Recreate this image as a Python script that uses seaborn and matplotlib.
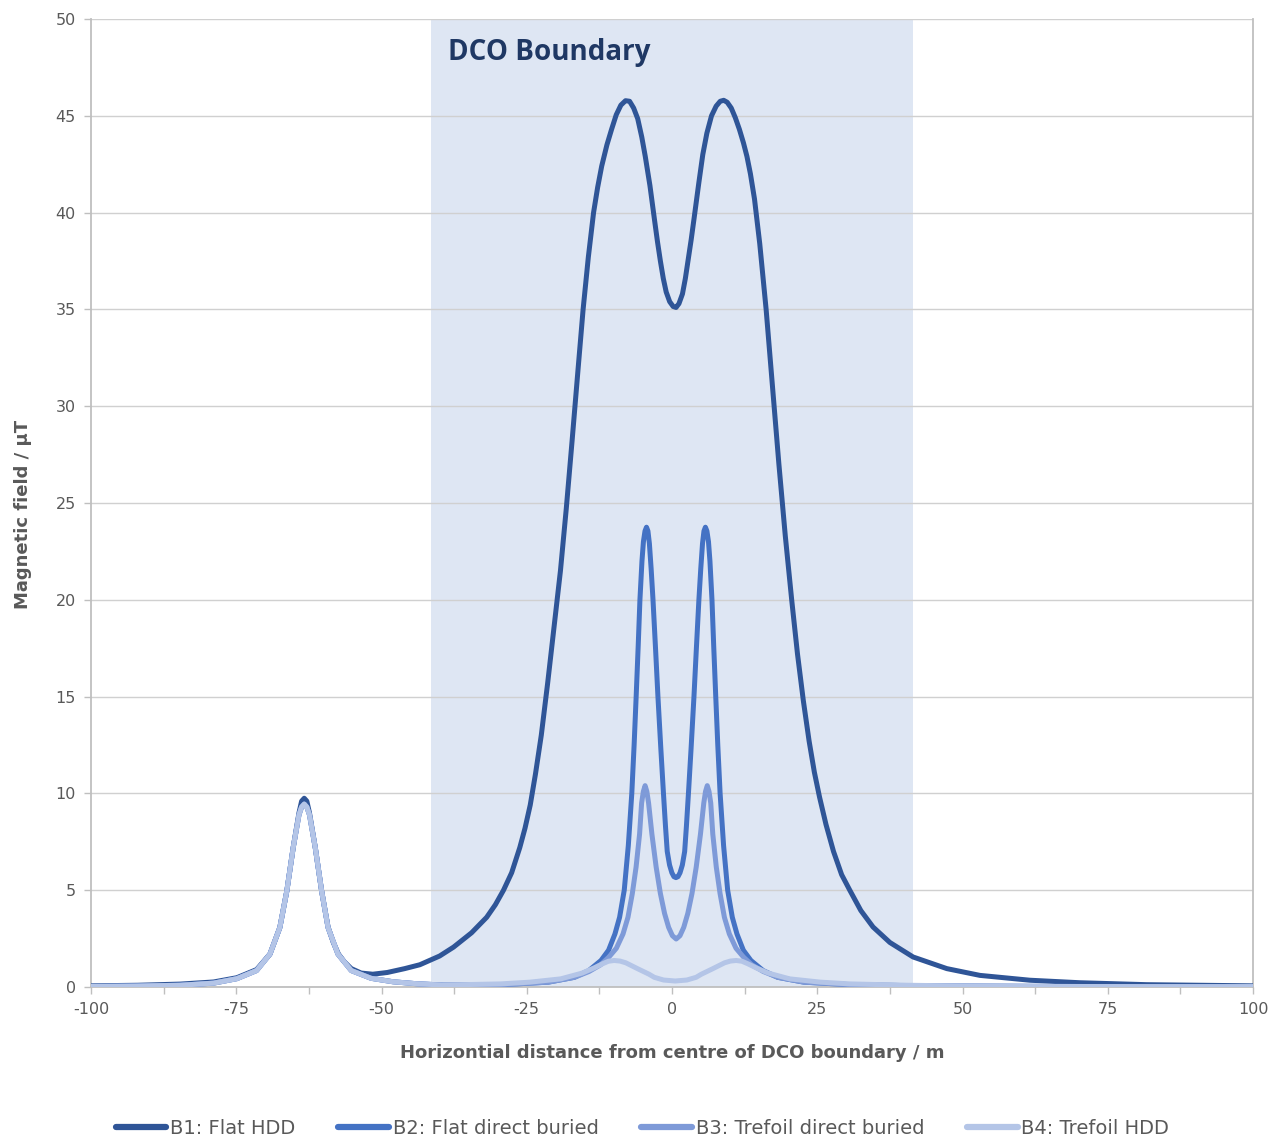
import numpy as np
import pandas as pd
import matplotlib
matplotlib.use("Agg")
import matplotlib.pyplot as plt
from matplotlib.lines import Line2D
import seaborn as sns

# ---- series data: horizontal distance (m) and magnetic field (uT) ----
b1_x = [-100, -92, -84.7, -78.9, -74.9, -71.5, -69.2, -67.5, -66.3, -65.2, -64.2, -63.75, -63.3,
        -62.85, -62.4, -61.4, -60.3, -59.2, -58.3, -57.4, -56.4, -55.2, -53.5, -51.5, -49, -46,
        -43.4, -40, -37.6, -34.5, -31.9, -30.4, -29.0, -27.6, -26.2, -25.3, -24.4, -23.5, -22.5,
        -21.4, -20.3, -19.2, -18.2, -17.2, -16.2, -15.3, -14.4, -13.5, -12.8, -12.1, -11.2, -10.4,
        -9.6, -8.8, -8.0, -7.3, -6.6, -5.9, -5.2, -4.6, -3.8, -3.0, -2.5, -2.0, -1.5, -1.0, -0.4,
        0.2, 0.7, 1.2, 1.8, 2.3, 2.8, 3.3, 3.8, 4.6, 5.3, 6.0, 6.8, 7.6, 8.3, 8.9, 9.5, 10.2,
        10.9, 11.6, 12.3, 12.9, 13.5, 14.2, 15.1, 16.2, 17.3, 18.4, 19.5, 20.6, 21.6, 22.6, 23.6,
        24.5, 25.4, 26.5, 27.8, 29.2, 30.6, 32.5, 34.6, 37.5, 41.5, 47.3, 53, 61.6, 70.2, 81.7, 100]
b1_y = [0.06, 0.09, 0.15, 0.26, 0.48, 0.9, 1.7, 3.07, 4.95, 7.2, 9.0, 9.6, 9.75,
        9.6, 9.0, 7.2, 4.95, 3.1, 2.3, 1.7, 1.3, 0.95, 0.72, 0.66, 0.75, 0.95,
        1.15, 1.6, 2.06, 2.8, 3.6, 4.25, 5.0, 5.9, 7.2, 8.2, 9.4, 11.0, 13.0,
        15.7, 18.6, 21.5, 24.7, 28.2, 31.8, 35.0, 37.7, 40.0, 41.3, 42.4, 43.5, 44.3,
        45.05, 45.55, 45.78, 45.75, 45.4, 44.85, 43.9, 42.9, 41.4, 39.6, 38.5, 37.5, 36.6, 35.9, 35.4,
        35.15, 35.1, 35.3, 35.8, 36.6, 37.6, 38.6, 39.7, 41.5, 43.0, 44.1, 45.0, 45.5, 45.75, 45.8, 45.7, 45.4,
        44.9, 44.3, 43.6, 42.9, 42.0, 40.7, 38.4, 35.0, 31.0, 27.0, 23.3, 20.0, 17.2, 14.8, 12.7,
        11.1, 9.8, 8.4, 7.0, 5.8, 5.0, 3.95, 3.1, 2.3, 1.55, 0.95, 0.6, 0.35, 0.22, 0.12, 0.06]

b2_x = [-100, -92, -84.7, -78.9, -74.9, -71.5, -69.2, -67.5, -66.3, -65.2, -64.2, -63.75, -63.3,
        -62.85, -62.4, -61.4, -60.3, -59.2, -57.5, -55.2, -51.8, -48, -44, -39.3, -29.3, -21.3,
        -16.82, -14.32, -12.22, -10.92, -9.82, -9.02, -8.22, -7.52, -6.92, -6.52, -6.17, -5.82,
        -5.52, -5.17, -4.92, -4.65, -4.39, -4.14, -3.89, -3.59, -3.27, -2.82, -2.42, -1.92, -1.47,
        -1.12, -0.82, -0.42, -0.02, 0.33, 0.68, 1.03, 1.38, 1.78, 2.18, 2.48, 2.83, 3.28, 3.78,
        4.18, 4.63, 4.95, 5.25, 5.5, 5.75, 6.01, 6.28, 6.53, 6.88, 7.18, 7.53, 7.88, 8.28, 8.88,
        9.58, 10.38, 11.18, 12.28, 13.58, 15.68, 18.18, 22.7, 30.7, 40.7, 50.7, 65, 80, 100]
b2_y = [0.03, 0.05, 0.09, 0.2, 0.43, 0.85, 1.7, 3.07, 4.95, 7.2, 8.9, 9.3, 9.45,
        9.3, 8.9, 7.2, 4.95, 3.07, 1.7, 0.85, 0.45, 0.27, 0.17, 0.1, 0.12, 0.25,
        0.5, 0.85, 1.37, 1.9, 2.74, 3.6, 5.0, 7.3, 10.0, 12.5, 15.0, 17.6,
        20.0, 22.0, 23.0, 23.55, 23.75, 23.55, 22.9, 21.6, 20.0, 17.4, 15.0, 12.3, 10.0,
        8.3, 7.0, 6.3, 5.9, 5.7, 5.65, 5.7, 5.9, 6.3, 7.0, 8.3, 10.0, 12.3, 15.0,
        17.4, 20.0, 21.6, 22.9, 23.55, 23.75, 23.55, 23.0, 22.0, 20.0, 17.6, 15.0, 12.5, 10.0, 7.3,
        5.0, 3.6, 2.74, 1.9, 1.37, 0.85, 0.5, 0.25, 0.12, 0.07, 0.05, 0.03, 0.02, 0.02]

b3_x = [-100, -92, -84.7, -78.9, -74.9, -71.5, -69.2, -67.5, -66.3, -65.2, -64.2, -63.75, -63.3,
        -62.85, -62.4, -61.4, -60.3, -59.2, -57.5, -55.2, -51.8, -48, -44, -39.3, -29.3, -21.28,
        -16.78, -14.28, -12.28, -10.88, -9.58, -8.43, -7.58, -6.83, -6.18, -5.58, -5.23, -4.93,
        -4.63, -4.33, -4.03, -3.46, -2.73, -2.0, -1.28, -0.58, 0.07, 0.72, 1.37, 2.02, 2.72, 3.44,
        4.17, 4.9, 5.47, 5.77, 6.07, 6.37, 6.67, 7.02, 7.62, 8.27, 9.02, 9.87, 11.02, 12.32,
        13.72, 15.72, 18.22, 22.72, 30.7, 40.7, 50.7, 65, 80, 100]
b3_y = [0.03, 0.05, 0.09, 0.2, 0.43, 0.85, 1.7, 3.07, 4.95, 7.2, 8.9, 9.3, 9.45,
        9.3, 8.9, 7.2, 4.95, 3.07, 1.7, 0.85, 0.45, 0.27, 0.17, 0.1, 0.12, 0.25,
        0.5, 0.8, 1.15, 1.54, 2.0, 2.74, 3.6, 4.83, 6.2, 7.9, 9.5, 10.1,
        10.4, 10.1, 9.5, 7.9, 6.2, 4.83, 3.8, 3.08, 2.65, 2.48, 2.65, 3.08, 3.8, 4.83,
        6.2, 7.9, 9.5, 10.1, 10.4, 10.1, 9.5, 7.9, 6.2, 4.83, 3.6, 2.74, 2.0, 1.54,
        1.15, 0.8, 0.5, 0.25, 0.12, 0.07, 0.05, 0.03, 0.02, 0.02]

b4_x = [-100, -92, -84.7, -78.9, -74.9, -71.5, -69.2, -67.5, -66.3, -65.2, -64.2, -63.75, -63.3,
        -62.85, -62.4, -61.4, -60.3, -59.2, -57.5, -55.2, -51.8, -48, -44, -39.45, -29.45, -24.45,
        -19.15, -15.45, -13.45, -11.95, -10.95, -9.95, -8.95, -7.95, -5.95, -3.95, -3.05, -1.45,
        0.55, 2.55, 4.15, 5.05, 7.05, 9.05, 10.05, 11.05, 12.05, 13.05, 14.55, 16.55, 20.25, 25.55,
        30.55, 40.55, 50.7, 65, 80, 100]
b4_y = [0.03, 0.05, 0.09, 0.2, 0.43, 0.85, 1.7, 3.07, 4.95, 7.2, 8.9, 9.3, 9.45,
        9.3, 8.9, 7.2, 4.95, 3.07, 1.7, 0.85, 0.45, 0.27, 0.17, 0.1, 0.16, 0.25,
        0.42, 0.72, 0.98, 1.2, 1.33, 1.37, 1.34, 1.25, 0.95, 0.66, 0.5, 0.36,
        0.31, 0.36, 0.5, 0.66, 0.95, 1.25, 1.34, 1.37, 1.33, 1.2, 0.98, 0.72, 0.42, 0.25,
        0.16, 0.09, 0.05, 0.03, 0.02, 0.02]

series_names = ["B1: Flat HDD", "B2: Flat direct buried", "B3: Trefoil direct buried", "B4: Trefoil HDD"]
series_colors = ["#2F5597", "#4472C4", "#7E9AD8", "#B4C5E7"]

dco_half_width = 41.5
x_ticks = np.arange(-100, 100.1, 12.5)
y_ticks = np.arange(0, 51, 5)

frames = []
for name, xs, ys in zip(series_names, [b1_x, b2_x, b3_x, b4_x], [b1_y, b2_y, b3_y, b4_y]):
    frames.append(pd.DataFrame({"distance": xs, "field": ys, "series": name}))
df = pd.concat(frames, ignore_index=True)

sns.set_theme(style="white")
plt.rcParams["font.family"] = ["DejaVu Sans"]

fig = plt.figure(figsize=(12.85, 11.40), dpi=100)
ax = fig.add_axes([91 / 1285, 1 - 987 / 1140, 1162 / 1285, 968 / 1140])

# shaded DCO corridor
ax.axvspan(-dco_half_width, dco_half_width, color="#DEE6F3", zorder=0, lw=0)

sns.lineplot(data=df, x="distance", y="field", hue="series", hue_order=series_names,
             palette=dict(zip(series_names, series_colors)), estimator=None, sort=False,
             linewidth=3.6, legend=False, ax=ax, zorder=3)
for ln in ax.get_lines():
    ln.set_solid_capstyle("round")
    ln.set_solid_joinstyle("round")

ax.set_xlim(-100, 100)
ax.set_ylim(0, 50)
ax.set_yticks(y_ticks)
ax.set_xticks(x_ticks)
ax.set_xticklabels([f"{int(t)}" if t % 25 == 0 else "" for t in x_ticks])
ax.set_yticklabels([f"{int(t)}" for t in y_ticks])

ax.grid(axis="y", color="#D0D0D0", linewidth=1.0, zorder=1)
ax.grid(axis="x", visible=False)
ax.set_axisbelow(True)

for side in ["left", "right", "bottom"]:
    ax.spines[side].set_visible(True)
    ax.spines[side].set_color("#BFBFBF")
    ax.spines[side].set_linewidth(1.3)
ax.spines["top"].set_visible(False)

ax.tick_params(axis="both", which="both", direction="out", length=5, width=1,
               color="#BFBFBF", labelcolor="#595959", labelsize=11.5)
ax.tick_params(axis="x", pad=6, bottom=True)
ax.tick_params(axis="y", pad=6, left=True)

ax.set_xlabel("Horizontial distance from centre of DCO boundary / m", fontsize=13,
              fontweight="bold", color="#595959", labelpad=19)
ax.set_ylabel("Magnetic field / µT", fontsize=13, fontweight="bold", color="#595959")
ax.yaxis.set_label_coords(-0.051, (987 - 514) / 968)

ax.text(-38.6, 48.25, "DCO Boundary", fontsize=20, fontweight="bold", color="#1F3864",
        ha="left", va="center", family=["Open Sans", "DejaVu Sans"], zorder=4)

handles = [Line2D([0], [0], color=c, lw=4.5, solid_capstyle="round") for c in series_colors]
leg = fig.legend(handles, series_names, loc="center", bbox_to_anchor=(0.5, 1 - 1128 / 1140),
                 ncol=4, frameon=False, handlelength=2.6, handletextpad=0.2,
                 columnspacing=2.2, prop={"size": 14})
for t in leg.get_texts():
    t.set_color("#595959")

fig.savefig("out.png", dpi=100)
